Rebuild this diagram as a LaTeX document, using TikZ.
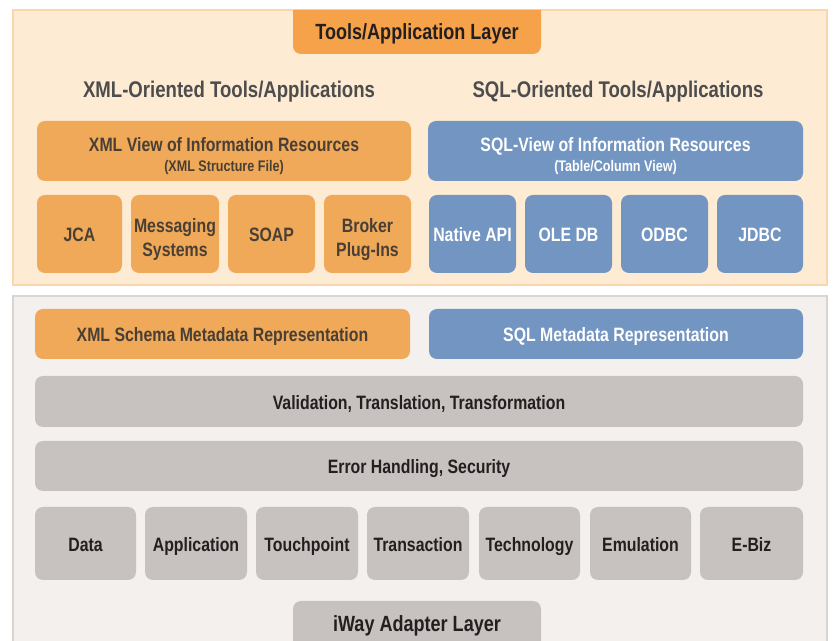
\documentclass[tikz,border=0pt]{standalone}
\usepackage{fontspec}
\setmainfont{Liberation Sans}[FakeStretch=0.82]
\definecolor{peach}{HTML}{FDEBD3}
\definecolor{peachline}{HTML}{F9D7AA}
\definecolor{tabor}{HTML}{F5A24A}
\definecolor{boxor}{HTML}{EFA959}
\definecolor{boxbl}{HTML}{7395C2}
\definecolor{boxgr}{HTML}{C7C2BF}
\definecolor{panelgr}{HTML}{F4F0ED}
\definecolor{panelline}{HTML}{DAD5D1}
\definecolor{txtdark}{HTML}{231F20}
\definecolor{txthead}{HTML}{4D4D4D}
\definecolor{txtor}{HTML}{4A3F35}
\newcommand\bx[7]{\node[#6, minimum width={(#4-#2)*0.75pt}, minimum height={(#5-#3)*0.75pt}] (#1) at ({(#2+#4)/2},{(#3+#5)/2}) {#7};}
\newcommand\subtxt{\fontsize{11.5}{12}\selectfont}
\newcommand\topstrut{\rule{0pt}{1.3em}}
\tikzset{
  base/.style={rounded corners=6pt, inner sep=0pt, align=center, font=\bfseries\fontsize{14.5}{18}\selectfont},
  obox/.style={base, fill=boxor, text=txtor},
  bbox/.style={base, fill=boxbl, text=white},
  gbox/.style={base, fill=boxgr, text=txtdark},
  one/.style={text height=1.2em, text depth=0.05em},
  head/.style={font=\bfseries\fontsize{17}{18}\selectfont, text=txthead, inner sep=0pt, one},
  title/.style={text=txtdark, font=\bfseries\fontsize{16.5}{18}\selectfont, inner sep=0pt, one}
}
\begin{document}
\begin{tikzpicture}[x=0.75pt,y=-0.75pt]
\useasboundingbox (0,0) rectangle (833,641);
\fill[white] (0,0) rectangle (833,641);
% top panel
\draw[fill=peach, draw=peachline, line width=1.5pt] (13,10) rectangle (827,285);
\fill[tabor] (293,10) -- (293,30) [rounded corners=6pt] -- (293,54) -- (541,54) -- (541,30) [sharp corners] -- (541,10) -- cycle;
\node[title] (tab) at (417,32) {Tools/Application Layer};
\node[head] (xmlh) at (229,90) {XML-Oriented Tools/Applications};
\node[head] (sqlh) at (618,90) {SQL-Oriented Tools/Applications};
\bx{xmlv}{37}{121}{411}{181}{obox}{\topstrut XML View of Information Resources\\[-3pt]{\subtxt (XML Structure File)}}
\bx{sqlv}{428}{121}{803}{181}{bbox}{\topstrut SQL-View of Information Resources\\[-3pt]{\subtxt (Table/Column View)}}
\bx{jca}{37}{195}{122}{273}{obox,one}{JCA}
\bx{msg}{131}{195}{219}{273}{obox}{\topstrut Messaging\\Systems}
\bx{soap}{228}{195}{315}{273}{obox,one}{SOAP}
\bx{brk}{324}{195}{411}{273}{obox}{\topstrut Broker\\Plug-Ins}
\bx{napi}{429}{195}{516}{273}{bbox,one}{Native API}
\bx{ole}{525}{195}{612}{273}{bbox,one}{OLE DB}
\bx{odbc}{621}{195}{708}{273}{bbox,one}{ODBC}
\bx{jdbc}{717}{195}{803}{273}{bbox,one}{JDBC}
% bottom panel
\fill[panelgr] (13,296) rectangle (827,641);
\draw[panelline, line width=1.5pt] (13,641) -- (13,296) -- (827,296) -- (827,641);
\bx{xsch}{35}{309}{410}{359}{obox,one}{XML Schema Metadata Representation}
\bx{sqlm}{429}{309}{803}{359}{bbox,one}{SQL Metadata Representation}
\bx{valid}{35}{376}{803}{427}{gbox,one}{Validation, Translation, Transformation}
\bx{err}{35}{441}{803}{491}{gbox,one}{Error Handling, Security}
\bx{data}{35}{507}{136}{580}{gbox,one}{Data}
\bx{app}{145}{507}{247}{580}{gbox,one}{Application}
\bx{touch}{256}{507}{358}{580}{gbox,one}{Touchpoint}
\bx{trans}{367}{507}{469}{580}{gbox,one}{Transaction}
\bx{tech}{479}{507}{580}{580}{gbox,one}{Technology}
\bx{emu}{590}{507}{691}{580}{gbox,one}{Emulation}
\bx{ebiz}{700}{507}{803}{580}{gbox,one}{E-Biz}
\fill[boxgr] (293,641) -- (293,620) [rounded corners=6pt] -- (293,601) -- (541,601) [sharp corners] -- (541,641) -- cycle;
\node[title] (iway) at (417,624) {iWay Adapter Layer};
\end{tikzpicture}
\end{document}
